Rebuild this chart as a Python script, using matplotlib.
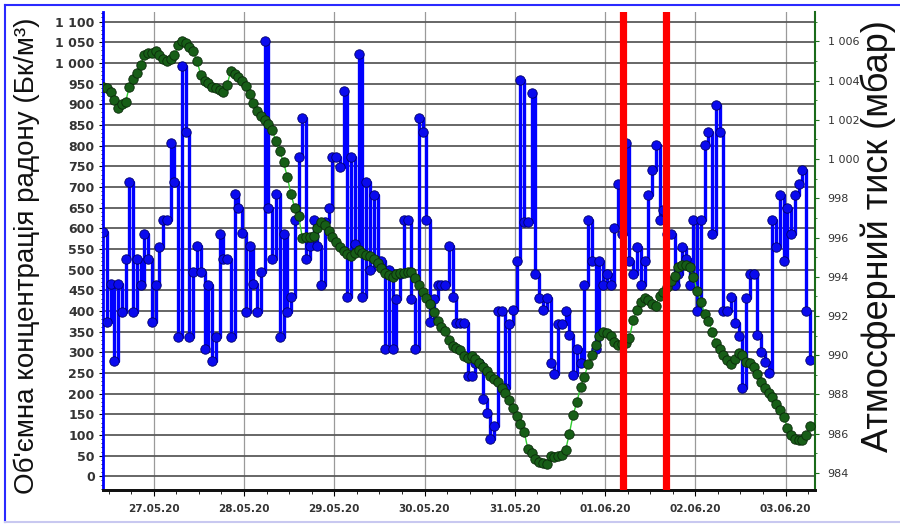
import numpy as np
import pandas as pd
import matplotlib
matplotlib.use('Agg')
import matplotlib.pyplot as plt
import matplotlib.dates as mdates
from matplotlib.ticker import MultipleLocator, FuncFormatter
from matplotlib.lines import Line2D

# hourly series, first sample 26.05.20 10:30
start = '2020-05-26 10:30'

radon = [590, 373, 466, 280, 466, 397, 526, 711, 397, 526, 462, 587, 526, 373, 462, 555, 619, 619, 806, 711,
         336, 992, 834, 336, 494, 556, 494, 308, 462, 280, 336, 587, 526,
         526, 336, 684, 650, 589, 397, 556, 464, 397, 494, 1052, 650, 526, 682, 336, 587, 397, 433, 619, 773,
         866, 526, 556, 619, 558, 462, 615, 650, 773, 773,
         747, 931, 433, 773, 563, 1022, 433, 711, 498, 680, 522, 522, 308, 498, 308, 429, 490, 619, 619, 429,
         308, 866, 834, 619, 373, 429, 462, 462, 462, 558, 433,
         370, 370, 370, 243, 243, 275, 275, 187, 154, 90, 121, 401, 401, 214, 369, 403, 522, 959, 615, 615,
         928, 490, 432, 403, 432, 275, 247, 369, 369, 401, 342,
         245, 308, 274, 463, 619, 522, 308, 522, 462, 490, 462, 600, 708, 587, 806, 522, 490, 555, 462, 522,
         680, 741, 801, 620, 645, 587, 587, 462, 490, 555, 526,
         462, 619, 401, 619, 801, 834, 587, 899, 834, 401, 401, 433, 370, 340, 214, 432, 490, 490, 342, 300,
         277, 250, 619, 555, 680, 522, 648, 587, 680, 708, 741, 401, 281]

pressure = [1003.7, 1003.6, 1003.4, 1003.0, 1002.6, 1002.8, 1002.9, 1003.7, 1004.1, 1004.4,
            1004.8, 1005.3, 1005.4, 1005.4, 1005.5, 1005.3, 1005.1, 1005.0, 1005.1, 1005.3,
            1005.8, 1006.0, 1005.9, 1005.7, 1005.5, 1005.0, 1004.3, 1004.0, 1003.9, 1003.7,
            1003.6, 1003.5, 1003.4, 1003.8, 1004.5, 1004.35, 1004.2, 1004.0, 1003.75, 1003.3,
            1002.85, 1002.45, 1002.2, 1002.0, 1001.8, 1001.5, 1000.9, 1000.4, 999.85, 999.1,
            998.2, 997.5, 997.1, 996.0, 996.05, 996.05, 996.07, 996.5, 996.8, 996.65,
            996.35, 996.05, 995.75, 995.5, 995.3, 995.15, 995.05, 995.2, 995.35, 995.2,
            995.1, 995.05, 994.9, 994.7, 994.45, 994.2, 994.1, 994.0, 994.15, 994.2,
            994.2, 994.25, 994.25, 993.95, 993.6, 993.2, 992.9, 992.6, 992.2, 991.75,
            991.45, 991.25, 990.8, 990.45, 990.35, 990.25, 989.95, 989.85, 989.95, 989.8,
            989.6, 989.4, 989.2, 988.95, 988.8, 988.65, 988.35, 988.05, 987.7, 987.3,
            986.9, 986.5, 986.1, 985.2, 985.0, 984.7, 984.55, 984.5, 984.47, 984.85,
            984.8, 984.85, 984.9, 985.15, 986.0, 986.95, 987.6, 988.4, 988.9, 989.55,
            990.0, 990.5, 991.0, 991.2, 991.15, 991.0, 990.7, 990.5, 990.55, 990.65,
            990.9, 991.8, 992.3, 992.7, 992.92, 992.8, 992.6, 992.5, 993.0, 993.2,
            993.5, 993.8, 994.05, 994.5, 994.62, 994.62, 994.5, 994.0, 993.3, 992.7,
            992.1, 991.75, 991.2, 990.65, 990.3, 990.0, 989.75, 989.55, 989.8, 990.12,
            990.0, 989.65, 989.6, 989.4, 989.05, 988.65, 988.35, 988.1, 987.85, 987.5,
            987.2, 986.85, 986.3, 985.95, 985.75, 985.69, 985.69, 985.95, 986.4]

events = ['2020-06-01 04:40', '2020-06-01 16:20']

t = pd.date_range(start, periods=len(radon), freq='h')

fig = plt.figure(figsize=(9, 5.24), dpi=100)
ax = fig.add_axes([103/900, 34/524, 712/900, 478/524])

ax.plot(t, radon, drawstyle='steps-post', color='#0000ff', lw=2.4,
        marker='o', ms=6.8, mfc='#0a0aee', mec='#00006a', mew=0.6, zorder=3)

ax2 = ax.twinx()
ax2.plot(t, pressure, color='#2fcc2f', lw=1,
         marker='o', ms=6.8, mfc='#175e17', mec='#0a2a0a', mew=0.6, zorder=3)
for e in events:
    ax2.axvline(pd.Timestamp(e), color='#ff0000', lw=5.2, zorder=10)

ax.set_xlim(t[0], pd.Timestamp('2020-06-03 07:50'))
ax.set_ylim(-33, 1123)
ax2.set_ylim(983.13, 1007.5)

ax.yaxis.set_major_locator(MultipleLocator(50))
ax.yaxis.set_minor_locator(MultipleLocator(10))
ax.yaxis.set_major_formatter(FuncFormatter(lambda v, p: f"{int(v):,}".replace(',', ' ')))
ax2.yaxis.set_major_locator(MultipleLocator(2))
ax2.yaxis.set_minor_locator(MultipleLocator(1))
ax2.yaxis.set_major_formatter(FuncFormatter(lambda v, p: f"{int(v):,}".replace(',', ' ')))

ax.xaxis.set_major_locator(mdates.DayLocator())
ax.xaxis.set_minor_locator(mdates.HourLocator(byhour=[0, 6, 12, 18]))
ax.xaxis.set_major_formatter(mdates.DateFormatter('%d.%m.%y'))

ax.grid(axis='y', which='major', color='#5a5a5a', lw=1.3)
ax.grid(axis='x', which='major', color='#9a9a9a', lw=0.9)
ax.set_axisbelow(True)

ax.tick_params(axis='y', which='major', length=3, pad=3, labelsize=9, labelcolor='#333333')
ax.tick_params(axis='y', which='minor', length=1.5)
for lab in ax.get_yticklabels():
    lab.set_fontweight('bold')
ax.tick_params(axis='x', which='major', length=4, pad=6, labelsize=7.5, labelcolor='#333333')
ax.tick_params(axis='x', which='minor', length=3)
for lab in ax.get_xticklabels():
    lab.set_fontweight('bold')
ax2.tick_params(axis='y', which='major', length=3, pad=6, labelsize=8, labelcolor='#333333', color='#1a6b1a')
ax2.tick_params(axis='y', which='minor', length=1.5, color='#1a6b1a')

for a in (ax, ax2):
    a.spines['top'].set_visible(False)
    a.spines['bottom'].set_linewidth(2)
    a.spines['bottom'].set_color('#111111')
ax.spines['right'].set_visible(False)
ax2.spines['left'].set_visible(False)
ax.spines['left'].set_color('#0000ff')
ax.spines['left'].set_linewidth(2)
ax2.spines['right'].set_color('#1a6b1a')
ax2.spines['right'].set_linewidth(1.5)

fig.text(27/900, 0.511, "Об'ємна концентрація радону (Бк/м³)", rotation=90,
         ha='center', va='center', fontsize=20, family='Liberation Sans', color='#111111')
fig.text(878/900, 0.55, "Атмосферний тиск (мбар)", rotation=90,
         ha='center', va='center', fontsize=26, family='Liberation Sans', color='#111111')

# window frame
fig.lines.append(Line2D([5/900, 5/900], [0.003, 1 - 5/524], transform=fig.transFigure, color='#2a2aff', lw=1.5))
fig.lines.append(Line2D([5/900, 1.0], [1 - 5/524, 1 - 5/524], transform=fig.transFigure, color='#2a2aff', lw=1.5))
fig.lines.append(Line2D([5/900, 1.0], [2/524, 2/524], transform=fig.transFigure, color='#c8c8f0', lw=1.5))

fig.savefig('out.png', dpi=100)
